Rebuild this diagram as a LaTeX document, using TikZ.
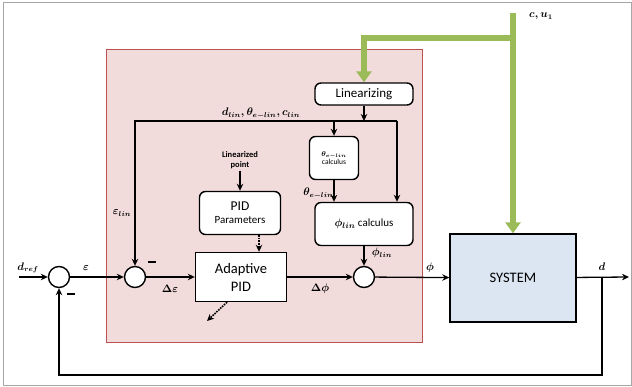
\documentclass[tikz,border=0pt]{standalone}
\usepackage{amsmath}
\usepackage{fontspec}
\setmainfont{Carlito}
\usetikzlibrary{arrows.meta}
\definecolor{pinkfill}{HTML}{F2DCDB}
\definecolor{pinkedge}{HTML}{C0504D}
\definecolor{sysfill}{HTML}{DCE6F2}
\definecolor{busgreen}{HTML}{9BBB59}

\begin{document}
\begin{tikzpicture}[x=1pt,y=-1pt,
    >={Stealth[length=7pt,width=6.5pt]},
    line width=1.3pt,
    blk/.style={draw,line width=1.4pt,rounded corners=6pt,fill=white,inner sep=1pt,align=center},
    sqblk/.style={draw,line width=1.4pt,fill=white,inner sep=1pt,align=center},
    sumnode/.style={draw,line width=1.4pt,circle,fill=white,minimum size=21pt,inner sep=0pt},
    mlbl/.style={font=\boldmath\fontsize{10.5}{12}\selectfont,inner sep=1pt},
    minus/.style={fill=black,minimum width=8pt,minimum height=2.6pt,inner sep=0pt},
    gbus/.style={busgreen,line width=6.5pt}]
        % Frame
        \useasboundingbox (0,0) rectangle (632,387);
        \draw[gray!70,line width=0.8pt] (3,2) rectangle (631,385);

        % Controller area
        \draw[pinkedge,fill=pinkfill,line width=1pt] (106,50) rectangle (422,343);

        % Blocks
        \node[blk,minimum width=98pt,minimum height=22pt,font=\fontsize{13}{14}\selectfont] (lin) at (364,94) {Linearizing};
        \node[blk,minimum width=49pt,minimum height=43pt,font=\fontsize{7.5}{8.5}\selectfont] (theta) at (334,158) {$\boldsymbol{\theta_{e-lin}}$\\calculus};
        \node[blk,minimum width=98pt,minimum height=43pt,font=\fontsize{11}{12}\selectfont] (phi) at (364,224) {$\boldsymbol{\phi_{lin}}$ calculus};
        \node[blk,minimum width=81pt,minimum height=43pt] (pid) at (240,213) {{\fontsize{13.5}{15}\selectfont PID}\\[1pt]{\fontsize{11}{13}\selectfont Parameters}};
        \node[sqblk,minimum width=91pt,minimum height=49pt,font=\fontsize{14.5}{18}\selectfont] (adap) at (241,277) {Adaptive\\PID};
        \node[sqblk,fill=sysfill,minimum width=126pt,minimum height=88pt,font=\fontsize{14.5}{17}\selectfont] (sys) at (513,278) {SYSTEM};
        \node[font=\bfseries\fontsize{8.5}{10.5}\selectfont,align=center,inner sep=1pt] (lp) at (240,160) {Linearized\\point};

        % Summing junctions
        \node[sumnode] (s1) at (59,277) {};
        \node[sumnode] (s2) at (135,277) {};
        \node[sumnode] (s3) at (364,277) {};
        \node[minus] (m1) at (71,294) {};
        \node[minus] (m2) at (152,262) {};

        % Free ends
        \coordinate (in) at (19,277);
        \coordinate (out) at (629,277);
        \coordinate (tap) at (602,277);
        \coordinate (fb) at (602,375);
        \coordinate (busR) at (397,121);
        \coordinate (tune) at (207,321);
        \coordinate (cu) at (513,13);
        \coordinate (gj) at (513,38);

        % Main path
        \draw[->] (in) -- (s1);
        \draw[->] (s1) -- (s2);
        \draw[->] (s2) -- (adap);
        \draw[->] (adap) -- (s3);
        \draw[->] (s3) -- (sys);
        \draw[->] (sys) -- (out);
        \draw[->] (tap) -- (fb) -| (s1.south);

        % Linearization bus
        \draw[->] (lin.south) -- (lin.south |- busR);
        \draw[->] (busR) -| (s2.north);
        \draw[->] (busR) -- (busR |- phi.north);
        \draw[->] (theta.north |- busR) -- (theta.north);
        \draw[->] (theta.south) -- (theta.south |- phi.north);
        \draw[->] (phi.south) -- (s3.north);
        \draw[->] (lp.south) -- (pid.north);

        % Dotted parameter links
        \draw[->,densely dotted,line width=1.6pt] ([xshift=19pt]pid.south) -- ([xshift=19pt]pid.south |- adap.north);
        \draw[->,densely dotted,line width=1.6pt] ([xshift=-14pt]adap.south) -- (tune);

        % Green inputs
        \draw[gbus,-{Triangle[width=15pt,length=11pt]}] (cu) -- (sys.north);
        \draw[gbus,-{Triangle[width=15pt,length=11pt]}] (gj) -| (lin.north);

        % Labels
        \node[mlbl] (dref) at (28,268) {$d_{ref}$};
        \node[mlbl] (eps) at (86,268) {$\varepsilon$};
        \node[mlbl] (epslin) at (122,213) {$\varepsilon_{lin}$};
        \node[mlbl] (deps) at (170,289) {$\Delta\varepsilon$};
        \node[mlbl] (dphi) at (320,289) {$\Delta\phi$};
        \node[mlbl] (philbl) at (430,268) {$\phi$};
        \node[mlbl] (dout) at (602,267) {$d$};
        \node[mlbl] (cu1) at (541,16) {$c,u_1$};
        \node[mlbl] (linvars) at (261,113) {$d_{lin},\theta_{e-lin},c_{lin}$};
        \node[mlbl,anchor=east] (thlbl) at (335,193) {$\theta_{e-lin}$};
        \node[mlbl] (philin) at (382,253) {$\phi_{lin}$};
\end{tikzpicture}
\end{document}
